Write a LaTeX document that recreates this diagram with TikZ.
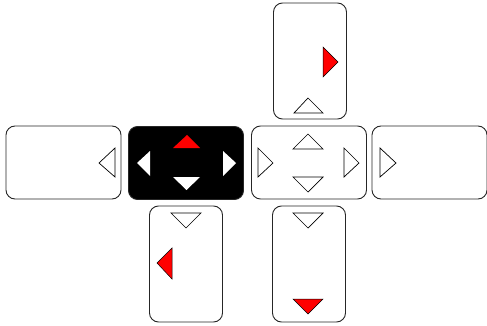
\documentclass[tikz,border=0pt]{standalone}
\begin{document}
\begin{tikzpicture}[x=1pt, y=-1pt,
    keybox/.style={draw=black!85, line width=0.9pt, rounded corners=9pt, inner sep=0pt},
    wide/.style={keybox, minimum width=115pt, minimum height=73pt},
    tall/.style={keybox, minimum width=73pt, minimum height=116pt},
    hollow/.style={draw=black, line width=0.7pt, fill=white},
    redtri/.style={draw=black, line width=0.5pt, fill=red},
    blanktri/.style={fill=white}]
    \useasboundingbox (0,0) rectangle (487,326);

    % Tasten
    \node[wide] (left) at (63.5,162.5) {};
    \node[wide, fill=black] (pad) at (186,163) {};
    \node[wide] (mid) at (309,162.5) {};
    \node[wide] (right) at (429.5,162.5) {};
    \node[tall] (top) at (310,61) {};
    \node[tall] (botleft) at (186,264) {};
    \node[tall] (botright) at (309,264) {};

    % linke Taste
    \draw[hollow] (99,163) -- (115,148) -- (115,177) -- cycle;

    % schwarze Taste
    \fill[red] (173,148) -- (187,135) -- (200,148) -- cycle;
    \fill[blanktri] (137,163) -- (150,151) -- (150,176) -- cycle;
    \fill[blanktri] (236,163) -- (223,151) -- (223,176) -- cycle;
    \fill[blanktri] (173,177) -- (200,177) -- (186.5,190) -- cycle;

    % mittlere Taste
    \draw[hollow] (258,148) -- (273,163) -- (258,177) -- cycle;
    \draw[hollow] (344,148) -- (359,163) -- (344,177) -- cycle;
    \draw[hollow] (293,149) -- (308,134) -- (323,149) -- cycle;
    \draw[hollow] (293,177) -- (323,177) -- (308,192) -- cycle;

    % rechte Taste
    \draw[hollow] (380,148) -- (396,163) -- (380,177) -- cycle;

    % obere Taste
    \draw[redtri] (323,47) -- (338,62) -- (323,77) -- cycle;
    \draw[hollow] (294,113) -- (308,98) -- (323,113) -- cycle;

    % untere Tasten
    \draw[hollow] (171,213) -- (201,213) -- (186,228) -- cycle;
    \draw[redtri] (157,263) -- (172,248) -- (172,279) -- cycle;
    \draw[hollow] (293,213) -- (323,213) -- (308,228) -- cycle;
    \draw[redtri] (293,299) -- (323,299) -- (308,314) -- cycle;
\end{tikzpicture}
\end{document}
